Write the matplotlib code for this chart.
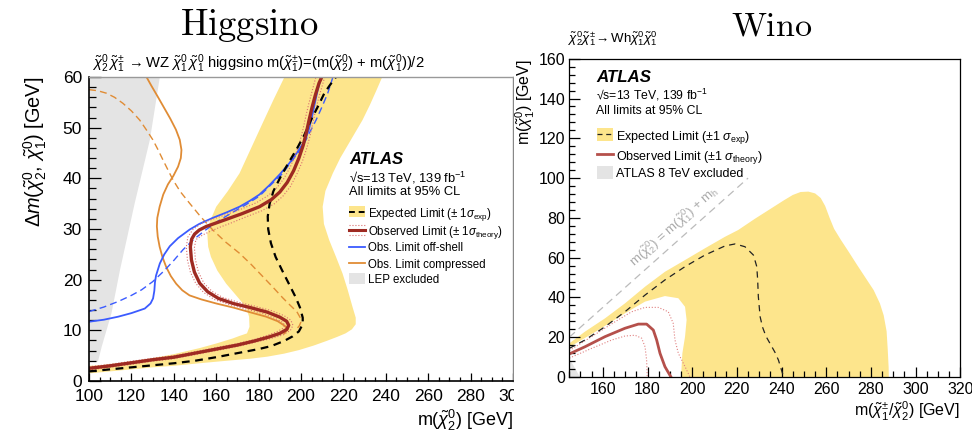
import numpy as np
import matplotlib
matplotlib.use("Agg")
import matplotlib.pyplot as plt
from matplotlib.patches import Rectangle
from matplotlib.ticker import MultipleLocator

plt.rcParams['font.family'] = ['Liberation Sans', 'DejaVu Sans']
plt.rcParams['mathtext.fontset'] = 'custom'
plt.rcParams['mathtext.rm'] = 'Liberation Sans'
plt.rcParams['mathtext.it'] = 'Liberation Sans:italic'
plt.rcParams['mathtext.bf'] = 'Liberation Sans:bold'
plt.rcParams['mathtext.sf'] = 'Liberation Sans'

# ---------------- Higgsino (left) ----------------
# LEP excluded
lep_x = [100, 104.2, 106, 110.6, 114.6, 121.5, 128.7, 133.4, 100]
lep_y = [3.8, 3.8, 6.8, 13.4, 21.9, 35, 47.6, 60, 60]

# expected +-1 sigma band: inner edge (top -> bottom left), outer edge (bottom left -> top right)
band_in_x = [192.2, 187, 182, 176.5, 171, 165.5, 160, 157, 155.8, 156.2, 157.5, 160.5, 164.7,
             170, 174, 175.5, 175.7, 174.5, 171, 167.8, 160, 152.2, 140, 128.6, 115, 105, 100]
band_in_y = [60, 55.5, 51, 46, 41, 37.5, 34.4, 31.5, 29, 26.5, 24.5, 21.8, 19.2,
             16.6, 14.6, 12.7, 10.7, 9.4, 8.9, 8.4, 7.4, 6.5, 5.3, 4.4, 3.6, 3.1, 3.0]
band_out_x = [100, 110, 120, 130, 140, 152, 165, 176, 184, 192, 199, 206, 212, 217, 221, 224,
              225.8, 225.8, 224.3, 222, 219.6, 216.5, 213.3, 210.8, 210.2, 211.5, 215, 218.5,
              222, 225.5, 229, 232.5, 235.5, 238.3]
band_out_y = [1.5, 1.9, 2.3, 2.7, 3.0, 3.5, 4.0, 4.4, 4.8, 5.4, 6.1, 7.0, 7.9, 8.7, 9.4, 10.2,
              11.2, 12.5, 14.6, 18, 21.2, 24.5, 27.8, 31, 34.4, 37.5, 41, 44,
              46.5, 49, 51.5, 54.5, 57.3, 60]

exp_x = [100, 110, 120, 130, 140, 150, 160, 170, 180, 186, 192, 196, 199, 200.8, 200.8, 199.5,
         197.5, 194.5, 191, 188, 185.8, 184.5, 184.3, 185.2, 187, 190, 194, 198, 201.5, 204.7,
         208, 211, 213.8, 216.5]
exp_y = [1.9, 2.3, 2.7, 3.1, 3.5, 4.0, 4.7, 5.5, 6.3, 6.9, 7.9, 8.8, 9.8, 11.2, 12.5, 14.5,
         16.5, 19, 21.9, 24.5, 27.2, 30, 32.5, 35, 37.5, 40, 43, 45.8, 48.5, 51.5,
         54.2, 56.8, 58.5, 60]

obs_x = [100, 110, 120, 130, 140, 150, 160, 170, 178, 185, 190, 193.3, 194.2, 193.2, 190, 184,
         176, 168, 161, 156, 152.2, 149.7, 148.3, 147.8, 148.4, 149.8, 152, 155.3, 160, 164.7,
         172, 180.4, 186, 190, 193.5, 196.5, 199, 201, 202.5, 203.8, 205.2, 206.8, 208.5, 209.8]
obs_y = [2.5, 3.0, 3.6, 4.2, 4.7, 5.5, 6.3, 7.1, 7.9, 8.7, 9.4, 10.2, 11.0, 11.8, 12.6, 13.6,
         14.5, 15.3, 16.3, 17.6, 19.3, 21.5, 23.9, 26.5, 28.0, 29.0, 29.8, 30.5, 31.2, 31.9,
         33, 34.4, 35.8, 37.3, 39.2, 41.5, 44, 46.5, 49, 51.5, 54, 56.5, 58.8, 60]

obs_dn_x = [100, 110, 120, 130, 140, 150, 160, 170, 178, 184, 188.5, 191.5, 192.3, 191.3, 188,
            182, 174, 166, 159, 154, 150.3, 147.8, 146.4, 145.9, 146.6, 149, 153, 158, 163, 171,
            179, 184.5, 188.5, 192, 195, 197.5, 199.5, 201, 202.3, 203.7, 205.3, 207]
obs_dn_y = [2.8, 3.3, 3.9, 4.5, 5.0, 5.8, 6.6, 7.4, 8.2, 9.0, 9.7, 10.4, 11.0, 11.6, 12.3,
            13.3, 14.2, 15.1, 16.1, 17.5, 19.3, 21.5, 23.9, 26.5, 28.4, 29.9, 31.1, 31.9, 32.6,
            33.8, 35.2, 36.6, 38.1, 40, 42.3, 44.8, 47.3, 49.8, 52.3, 54.8, 57.3, 60]
obs_up_x = [100, 110, 120, 130, 140, 150, 160, 170, 178, 186, 191.5, 195, 196.2, 195.2, 192,
            186, 178, 170, 163, 158, 154.2, 151.6, 150.2, 149.7, 150.4, 153.5, 157.5, 162, 166.5,
            173.5, 181.5, 187.5, 191.5, 195, 198, 200.6, 202.6, 204.2, 205.5, 206.8, 208.3, 210,
            211.2]
obs_up_y = [2.2, 2.7, 3.3, 3.9, 4.4, 5.2, 6.0, 6.8, 7.6, 8.4, 9.1, 10.0, 11.0, 12.0, 12.9,
            13.9, 14.8, 15.6, 16.5, 17.7, 19.3, 21.5, 23.9, 26.3, 27.9, 28.8, 29.6, 30.4, 31.1,
            32.3, 33.6, 35.0, 36.5, 38.4, 40.8, 43.3, 45.8, 48.3, 50.8, 53.3, 55.8, 58.3, 60]

offshell_obs_x = [100, 107, 113.8, 120, 126.3, 129, 130.2, 130.8, 131.1, 131.6, 133.4, 135.5,
                  138.1, 142, 147.5, 152, 158.4, 165, 171, 176, 180.4, 185, 190, 194.5, 198.5,
                  202, 203.8, 205.2, 206.5, 207.8, 209.5]
offshell_obs_y = [11.7, 12.1, 12.7, 13.4, 14.3, 15.3, 16.3, 17.8, 19.5, 20.8, 23.2, 25.0,
                  26.6, 28.2, 29.9, 31.0, 32.2, 33.3, 34.4, 35.6, 36.8, 38.6, 40.8, 43, 45.3,
                  47.6, 49.8, 52.2, 54.8, 57.3, 60]
offshell_exp_x = [100, 107, 113.8, 120, 124.8, 130, 135.3, 140, 144.3, 149.5, 155.3, 161,
                  167.8, 174, 180.4, 186, 191.4, 196, 200.8, 204, 207.1, 210, 212.6, 214.9]
offshell_exp_y = [13.7, 14.6, 15.7, 16.9, 18.0, 19.6, 21.7, 23.8, 25.9, 28.0, 29.9, 31.6,
                  33.3, 34.8, 36.5, 38.8, 41, 43.6, 46.3, 49, 51.5, 54.2, 56.8, 59.8]

comp_obs_x = [127.1, 129.5, 132.3, 135.3, 138.3, 141, 142.8, 143.6, 143.3, 142, 139.8, 137.2,
              135, 133.3, 132.2, 132, 132.4, 133.3, 134.6, 136.4, 138.6, 141.1, 144, 147.4, 153,
              160, 168, 175.7, 183.5, 189, 192.3, 193.7, 192.1]
comp_obs_y = [60, 58.2, 56.2, 54, 51.8, 49.6, 47.6, 45.6, 44, 42.3, 40.5, 38.8,
              36.8, 34.4, 32.2, 30.5, 28.5, 26.5, 24.5, 22.5, 20.7, 19.2, 17.9, 16.9, 16.1,
              15.3, 14.5, 13.6, 12.7, 11.8, 10.9, 10.2, 9.4]
comp_exp_x = [100, 104, 108.2, 112, 116, 120, 123.9, 127, 130.1, 132.6, 134.9, 137.3, 139.6,
              143, 147.4, 152.5, 158.4, 164.5, 171, 176.5, 182, 187, 191.4, 195, 198, 199.5,
              200, 199.2, 198]
comp_exp_y = [57.5, 57.3, 56.8, 56, 54.8, 53.3, 51.5, 49.6, 47.6, 45.6, 43.6, 41.6, 39.7,
              37.4, 35.1, 32.5, 29.8, 27.4, 25.2, 23, 20.6, 18.4, 16.4, 14.9, 13.7, 12.6,
              11.7, 10.9, 10.3]

# ---------------- Wino (right) ----------------
w_band_top_x = [145, 152, 161, 169.9, 178.9, 187.8, 196.8, 205.7, 214.7, 220.6, 228, 235, 241,
                245, 248.5, 252, 255, 257.5, 259.5, 261.5, 263.5, 266.5, 270, 273.7, 277.5,
                281.2, 284, 285.7, 287, 287.5, 287.9, 288]
w_band_top_y = [16.9, 22.8, 29.5, 37, 45.4, 52.9, 58.8, 64.7, 70.5, 73.9, 79.5, 84.5, 88.8,
                91.5, 93, 93.2, 92.3, 90, 86, 80, 74.5, 69, 63, 56.5, 50,
                43.7, 37, 31, 23, 14, 5, 0]
w_band_low_x = [195, 195.6, 196.8, 197.5, 196.8, 193.8, 187.8, 178.9, 169.9, 158, 145]
w_band_low_y = [0, 11.9, 20.3, 28.7, 35.3, 39.6, 40.7, 37.9, 32, 23.6, 15.0]

w_exp_x = [145, 152, 161, 169.9, 178.9, 187.8, 196.8, 205.7, 214.7, 219.2, 223.6, 227.4, 228.9,
           229.3, 229.6, 230.4, 231.5, 233, 235, 237, 238.6, 240.9]
w_exp_y = [14.4, 18.6, 25.3, 32.8, 41.2, 48.8, 55.5, 61.3, 65.9, 66.9, 65.5, 61.3, 55.5,
           48.8, 40.4, 30.3, 25, 20.5, 16.5, 12.5, 8.5, 0]
w_obs_x = [145, 152, 161, 169.9, 175.9, 179.6, 182.6, 184.1, 185.6, 187.8, 190.5]
w_obs_y = [11.6, 15.2, 20.3, 24.5, 26.6, 26.6, 23.6, 18.6, 11.9, 5.2, 0]
w_obs_up_x = [145, 155, 165.5, 172.9, 178.9, 184.8, 189.3, 191.5, 192.3, 193.8, 196.8, 199]
w_obs_up_y = [13.3, 20.3, 27.8, 32.8, 35, 35, 32.8, 27, 18.6, 11.9, 5.2, 0]
w_obs_dn_x = [145, 155, 164, 169.9, 174.4, 177.4, 178.9, 179.6, 179.9]
w_obs_dn_y = [9.5, 14.4, 18.6, 20.6, 21, 19.5, 15.2, 8.5, 0]
w_8tev_x = [145, 145, 149.8]
w_8tev_y = [0, 9.4, 0]
kin_x = [145, 225]
kin_y = [20, 100]

yellow = '#FDE58C'
gray_fill = '#E4E4E4'

fig = plt.figure(figsize=(9.72, 4.34), dpi=100)
ax1 = fig.add_axes([0.0916, 0.1221, 0.4362, 0.7005], zorder=0)
ax2 = fig.add_axes([0.5857, 0.1313, 0.4023, 0.7334], zorder=2)
# the Wino picture sits on top of the Higgsino one
fig.add_artist(Rectangle((0.529, 0), 0.471, 1, transform=fig.transFigure,
                         facecolor='white', edgecolor='none', zorder=1))

# ---- left
ax1.fill(lep_x, lep_y, color=gray_fill, lw=0)
ax1.fill(band_in_x + band_out_x, band_in_y + band_out_y, color=yellow, lw=0)
ax1.plot(comp_exp_x, comp_exp_y, color='#E08C35', lw=1.0, ls=(0, (5, 3)))
ax1.plot(comp_obs_x, comp_obs_y, color='#E08C35', lw=1.3)
ax1.plot(offshell_exp_x, offshell_exp_y, color='#3B5BFF', lw=1.0, ls=(0, (5, 3)))
ax1.plot(offshell_obs_x, offshell_obs_y, color='#3B5BFF', lw=1.3)
ax1.plot(obs_up_x, obs_up_y, color='#D97070', lw=0.8, ls=':')
ax1.plot(obs_dn_x, obs_dn_y, color='#D97070', lw=0.8, ls=':')
ax1.plot(exp_x, exp_y, color='black', lw=1.6, ls=(0, (3.5, 2.5)))
ax1.plot(obs_x, obs_y, color='#9E2A22', lw=2.4)

ax1.set_xlim(100, 300)
ax1.set_ylim(0, 60)
ax1.xaxis.set_major_locator(MultipleLocator(20))
ax1.xaxis.set_minor_locator(MultipleLocator(5))
ax1.yaxis.set_major_locator(MultipleLocator(10))
ax1.yaxis.set_minor_locator(MultipleLocator(2))
ax1.tick_params(axis='both', which='both', direction='in', top=False, right=False, width=0.9)
ax1.tick_params(axis='y', which='major', length=8.5, pad=5, labelsize=12.5)
ax1.tick_params(axis='y', which='minor', length=4.8)
ax1.tick_params(axis='x', which='major', length=6, pad=6, labelsize=12.5)
ax1.tick_params(axis='x', which='minor', length=3.2)
for s in ['left', 'bottom']:
    ax1.spines[s].set_linewidth(1.2)
ax1.spines['top'].set_color('#999999')
ax1.spines['right'].set_color('#888888')
ax1.spines['top'].set_linewidth(1.0)
ax1.spines['right'].set_linewidth(1.0)

ax1.text(1.0, -0.148, r'm($\tilde{\chi}^{0}_{2}$) [GeV]', transform=ax1.transAxes,
         ha='right', va='baseline', fontsize=13)
ax1.text(-0.127, 1.0, r'$\Delta m(\tilde{\chi}^{0}_{2},\,\tilde{\chi}^{0}_{1})$ [GeV]',
         transform=ax1.transAxes, rotation=90, ha='center', va='top', fontsize=14.3)
ax1.text(0.006, 1.0296,
         r'$\tilde{\chi}^{0}_{2}\,\tilde{\chi}^{\pm}_{1}\,\rightarrow$WZ $\tilde{\chi}^{0}_{1}\,\tilde{\chi}^{0}_{1}$'
         r' higgsino m($\tilde{\chi}^{\pm}_{1}$)=(m($\tilde{\chi}^{0}_{2}$) + m($\tilde{\chi}^{0}_{1}$))/2',
         transform=ax1.transAxes, ha='left', va='baseline', fontsize=10.6)

# left legend
lx0, lx1, lxt = 0.613, 0.651, 0.658
ax1.text(lx0, 0.730, 'ATLAS', transform=ax1.transAxes, fontsize=12, fontweight='bold',
         fontstyle='italic', va='center')
ax1.text(lx0, 0.669, '√s=13 TeV, 139 fb$^{-1}$', transform=ax1.transAxes, fontsize=9.3, va='center')
ax1.text(lx0, 0.622, 'All limits at 95% CL', transform=ax1.transAxes, fontsize=9.3, va='center')
ly = [0.557, 0.497, 0.442, 0.387, 0.338]
lh = 0.036
ax1.add_patch(Rectangle((lx0, ly[0] - lh / 2), lx1 - lx0, lh, transform=ax1.transAxes,
                        facecolor=yellow, edgecolor='none'))
ax1.plot([lx0, lx1], [ly[0], ly[0]], transform=ax1.transAxes, color='black', lw=1.4,
         ls=(0, (3, 2)))
ax1.plot([lx0, lx1], [ly[1], ly[1]], transform=ax1.transAxes, color='#9E2A22', lw=2.2)
for d in (-0.016, 0.016):
    ax1.plot([lx0, lx1], [ly[1] + d, ly[1] + d], transform=ax1.transAxes, color='#D97070',
             lw=0.8, ls=':')
ax1.plot([lx0, lx1], [ly[2], ly[2]], transform=ax1.transAxes, color='#3B5BFF', lw=1.3)
ax1.plot([lx0, lx1], [ly[3], ly[3]], transform=ax1.transAxes, color='#E08C35', lw=1.3)
ax1.add_patch(Rectangle((lx0, ly[4] - lh / 2), lx1 - lx0, lh, transform=ax1.transAxes,
                        facecolor=gray_fill, edgecolor='none'))
left_labels = [r'Expected Limit ($\pm$ 1$\sigma_{\mathrm{exp}}$)',
               r'Observed Limit ($\pm$ 1$\sigma_{\mathrm{theory}}$)',
               'Obs. Limit off-shell', 'Obs. Limit compressed', 'LEP excluded']
for yy, lab in zip(ly, left_labels):
    ax1.text(lxt, yy, lab, transform=ax1.transAxes, fontsize=8.3, va='center_baseline')

# ---- right
ax2.fill(w_band_top_x + w_band_low_x, w_band_top_y + w_band_low_y, color=yellow, lw=0)
ax2.fill(w_8tev_x, w_8tev_y, color=gray_fill, lw=0)
ax2.plot(kin_x, kin_y, color='#BBBBBB', lw=0.9, ls=(0, (6, 4)))
ax2.text(174, 55.5, r'm($\tilde{\chi}^{0}_{2}$) = m($\tilde{\chi}^{0}_{1}$) + m$_{\mathrm{h}}$',
         rotation=45, transform_rotates_text=True, rotation_mode='anchor',
         ha='left', va='baseline', color='#AAAAAA', fontsize=9.5)
ax2.plot(w_obs_up_x, w_obs_up_y, color='#E08080', lw=0.8, ls=':')
ax2.plot(w_obs_dn_x, w_obs_dn_y, color='#E08080', lw=0.8, ls=':')
ax2.plot(w_exp_x, w_exp_y, color='#222222', lw=0.9, ls=(0, (5, 4)))
ax2.plot(w_obs_x, w_obs_y, color='#B5504B', lw=2.0)

ax2.set_xlim(145, 320)
ax2.set_ylim(0, 160)
ax2.xaxis.set_major_locator(MultipleLocator(20))
ax2.xaxis.set_minor_locator(MultipleLocator(5))
ax2.yaxis.set_major_locator(MultipleLocator(20))
ax2.yaxis.set_minor_locator(MultipleLocator(4))
ax2.tick_params(axis='both', which='both', direction='in', top=False, right=False, width=0.9)
ax2.tick_params(axis='y', which='major', length=8, pad=3, labelsize=11.5)
ax2.tick_params(axis='y', which='minor', length=4.5)
ax2.tick_params(axis='x', which='major', length=7, pad=3.5, labelsize=11.5)
ax2.tick_params(axis='x', which='minor', length=4.5)
for s in ax2.spines.values():
    s.set_linewidth(0.9)

ax2.text(1.0, -0.125, r'm($\tilde{\chi}^{\pm}_{1}$/$\tilde{\chi}^{0}_{2}$) [GeV]',
         transform=ax2.transAxes, ha='right', va='baseline', fontsize=11.5)
ax2.text(-0.112, 1.0, r'm($\tilde{\chi}^{0}_{1}$) [GeV]', transform=ax2.transAxes,
         rotation=90, ha='center', va='top', fontsize=11.5)
ax2.text(-0.003, 1.0525,
         r'$\tilde{\chi}^{0}_{2}\tilde{\chi}^{\pm}_{1}\!\rightarrow$Wh$\tilde{\chi}^{0}_{1}\tilde{\chi}^{0}_{1}$',
         transform=ax2.transAxes, ha='left', va='baseline', fontsize=9.5)

rx0, rx1, rxt = 0.072, 0.111, 0.119
ax2.text(0.068, 0.941, 'ATLAS', transform=ax2.transAxes, fontsize=12.2, fontweight='bold',
         fontstyle='italic', va='center')
ax2.text(0.068, 0.886, '√s=13 TeV, 139 fb$^{-1}$', transform=ax2.transAxes, fontsize=8.8, va='center')
ax2.text(0.068, 0.836, 'All limits at 95% CL', transform=ax2.transAxes, fontsize=8.8, va='center')
ry = [0.762, 0.700, 0.642]
rh = 0.039
ax2.add_patch(Rectangle((rx0, ry[0] - rh / 2), rx1 - rx0, rh, transform=ax2.transAxes,
                        facecolor=yellow, edgecolor='none'))
ax2.plot([rx0, rx1], [ry[0], ry[0]], transform=ax2.transAxes, color='#222222', lw=0.9,
         ls=(0, (4, 3)))
ax2.plot([rx0, rx1], [ry[1], ry[1]], transform=ax2.transAxes, color='#B5504B', lw=2.0)
ax2.add_patch(Rectangle((rx0, ry[2] - rh / 2), rx1 - rx0, rh, transform=ax2.transAxes,
                        facecolor=gray_fill, edgecolor='none'))
right_labels = [r'Expected Limit ($\pm$1 $\sigma_{\mathrm{exp}}$)',
                r'Observed Limit ($\pm$1 $\sigma_{\mathrm{theory}}$)',
                'ATLAS 8 TeV excluded']
for yy, lab in zip(ry, right_labels):
    ax2.text(rxt, yy, lab, transform=ax2.transAxes, fontsize=9, va='center_baseline')

# panel titles
fig.text(249 / 972, 1 - 35 / 434, r'$\mathrm{Higgsino}$', math_fontfamily='cm',
         ha='center', va='baseline', fontsize=26.4, zorder=3)
fig.text(772 / 972, 1 - 35 / 434, r'$\mathrm{Wino}$', math_fontfamily='cm',
         ha='center', va='baseline', fontsize=24.5, zorder=3)

fig.savefig('out.png', dpi=100)
